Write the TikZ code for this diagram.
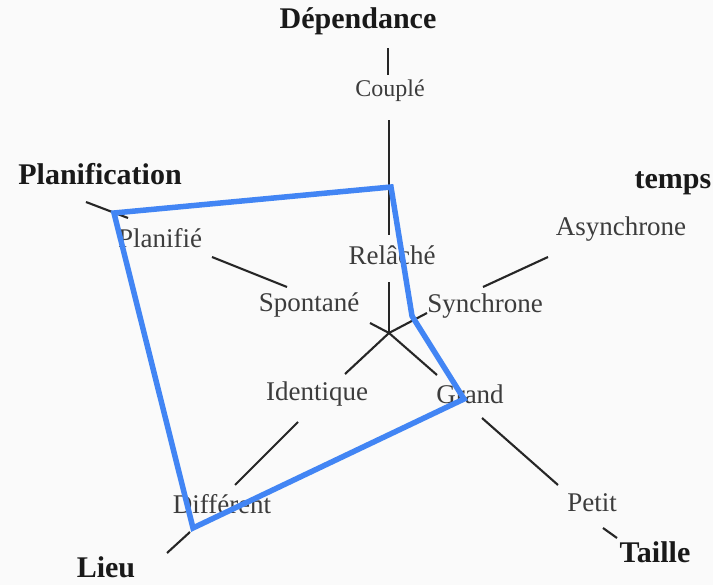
\documentclass[tikz,border=0pt]{standalone}
\usepackage{fontspec}
\setmainfont{Liberation Serif}
\definecolor{bgc}{HTML}{FAFAFA}
\definecolor{linec}{HTML}{262626}
\definecolor{labc}{HTML}{3C3C3C}
\definecolor{bluec}{HTML}{4285F4}
\begin{document}
\begin{tikzpicture}[x=1pt,y=-1pt,
  lab/.style={inner sep=0pt,text=labc,font=\fontsize{27}{30}\selectfont},
  smalllab/.style={inner sep=0pt,text=labc,font=\fontsize{24}{27}\selectfont},
  axlab/.style={inner sep=0pt,text=black!90,font=\fontsize{30}{33}\selectfont\bfseries},
  axis/.style={draw=linec,line width=2.1pt},
  poly/.style={draw=bluec,line width=5.5pt,line join=miter}]
\fill[bgc] (0,0) rectangle (713,585);
\useasboundingbox (0,0) rectangle (713,585);
% labels
\node[axlab] (dep) at (358,21) {Dépendance};
\node[smalllab] (coup) at (390,91) {Couplé};
\node[lab] (rel) at (392,255) {Relâché};
\node[axlab] (plan) at (100,174) {Planification};
\node[lab] (planif) at (160,238) {Planifié};
\node[lab] (spont) at (309,305) {Spontané};
\node[axlab] (temps) at (673,183) {temps};
\node[lab] (async) at (621,229) {Asynchrone};
\node[lab] (sync) at (485,306) {Synchrone};
\node[lab] (ident) at (317,394) {Identique};
\node[lab] (diff) at (222,504) {Différent};
\node[axlab] (lieu) at (106,567) {Lieu};
\node[lab] (grand) at (470,394) {Grand};
\node[lab] (petit) at (592,503) {Petit};
\node[axlab] (taille) at (655,552) {Taille};
% axis points
\coordinate (c) at (389,333);
\coordinate (d1) at (389,282); \coordinate (d2) at (389,235); \coordinate (d3) at (389,120);
\coordinate (d4) at (388,75);  \coordinate (d5) at (388,48);
\coordinate (p1) at (370,323); \coordinate (p2) at (287,287); \coordinate (p3) at (212,257);
\coordinate (p4) at (128,218); \coordinate (p5) at (86,202);
\coordinate (t1) at (427,313); \coordinate (t2) at (483,287); \coordinate (t3) at (548,257);
\coordinate (l1) at (345,374); \coordinate (l2) at (298,422); \coordinate (l3) at (235,485);
\coordinate (l4) at (190,532); \coordinate (l5) at (167,553);
\coordinate (s1) at (437,375); \coordinate (s2) at (482,418); \coordinate (s3) at (558,485);
\coordinate (s4) at (603,528); \coordinate (s5) at (617,538);
% axes
\draw[axis] (c) -- (d1) (d2) -- (d3) (d4) -- (d5);
\draw[axis] (c) -- (p1) (p2) -- (p3) (p4) -- (p5);
\draw[axis] (c) -- (t1) (t2) -- (t3);
\draw[axis] (c) -- (l1) (l2) -- (l3) (l4) -- (l5);
\draw[axis] (c) -- (s1) (s2) -- (s3) (s4) -- (s5);
% profile polygon
\coordinate (A) at (114,213);
\coordinate (B) at (391,187);
\coordinate (C) at (412,316);
\coordinate (D) at (464,399);
\coordinate (E) at (193,528);
\draw[poly] (A) -- (B) -- (C) -- (D) -- (E) -- cycle;
\end{tikzpicture}
\end{document}
